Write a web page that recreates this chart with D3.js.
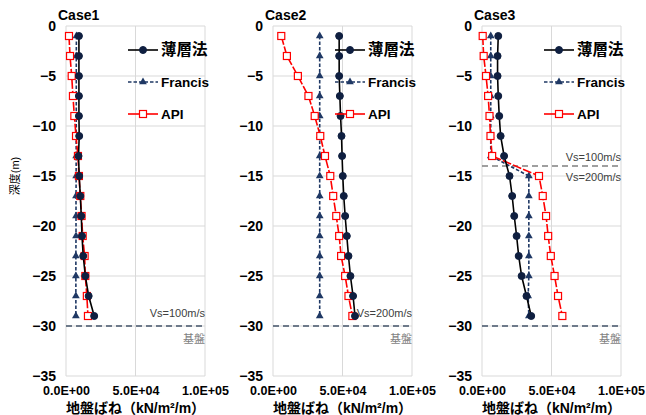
<!DOCTYPE html>
<html>
<head>
<meta charset="utf-8">
<script src="https://cdn.jsdelivr.net/npm/d3@7"></script>
<style>
  body { margin: 0; background: #fff; }
  svg text { font-family: "Liberation Sans", Arial, "Noto Sans CJK JP", sans-serif; }
</style>
</head>
<body>
<div id="chart"></div>
<script>
// depth of each sample point (m)
var depths = [-1, -3, -5, -7, -9, -11, -13, -15, -17, -19, -21, -23, -25, -27, -29];

// Case1
var case1Thin    = [9300, 9300, 9300, 9300, 9300, 9500, 9000, 9500, 10300, 11000, 11500, 12400, 13900, 16300, 20300];
var case1Francis = [7500, 7400, 7400, 7400, 7400, 7300, 7300, 7300, 7200, 7200, 7200, 7100, 7100, 7100, 7100];
var case1API     = [2150, 2900, 4100, 5000, 6000, 7200, 8600, 9300, 10300, 11200, 12000, 13400, 13900, 15000, 15800];

// Case2
var case2Thin    = [47600, 47600, 47600, 48100, 48600, 49300, 49700, 50200, 50900, 51900, 53100, 54300, 55700, 57600, 59000];
var case2Francis = [33600, 33600, 33600, 33600, 33600, 33600, 33600, 33600, 33600, 33600, 33600, 33600, 33600, 33600, 33600];
var case2API     = [5950, 10000, 17900, 25500, 30000, 34000, 37400, 41200, 43300, 45500, 47600, 49000, 51900, 54300, 57100];

// Case3
var case3Thin    = [11700, 11200, 11200, 11700, 12400, 13400, 15900, 19800, 21700, 23200, 24900, 26400, 28500, 32000, 35400];
var case3Francis = [6300, 6300, 6300, 6300, 6300, 6300, 6300, 33700, 33700, 33700, 33700, 33700, 33700, 33200, 33700];
var case3API     = [500, 1200, 2900, 4400, 5400, 6100, 7300, 41000, 43700, 46100, 47600, 49500, 52200, 54700, 57800];

var caseNames = ["Case1", "Case2", "Case3"];
var seriesNames = ["薄層法", "Francis", "API"];
var xTicks = [0, 50000, 100000];
var yTicks = [0, -5, -10, -15, -20, -25, -30, -35];
var baseDepth = -30;
// layer boundaries: [depth, label above, label below]
var layerLines = [
  [],
  [],
  [[-14, "Vs=100m/s", "Vs=200m/s"]]
];
var baseLabels = ["Vs=100m/s", "Vs=200m/s", null];

var panels = [
  {name: caseNames[0], thin: case1Thin, francis: case1Francis, api: case1API, left: 66},
  {name: caseNames[1], thin: case2Thin, francis: case2Francis, api: case2API, left: 273},
  {name: caseNames[2], thin: case3Thin, francis: case3Francis, api: case3API, left: 482}
];

var W = 646, H = 415;
var plotTop = 26, plotW = 139, plotH = 350;

var svg = d3.select("#chart").append("svg")
    .attr("width", W)
    .attr("height", H);

var x = d3.scaleLinear().domain([0, 100000]).range([0, plotW]);
var y = d3.scaleLinear().domain([0, -35]).range([0, plotH]);

var styles = [
  {stroke: "#000", dash: null, marker: "circle"},
  {stroke: "#1f3864", dash: "3.5,2", marker: "triangle"},
  {stroke: "#ff0000", dash: "9,2", marker: "square"}
];

function drawMarker(g, type, cx, cy) {
  if (type === "circle") {
    g.append("circle").attr("cx", cx).attr("cy", cy).attr("r", 3.5)
      .attr("fill", "#0f1f40").attr("stroke", "#0f1f40");
  } else if (type === "triangle") {
    g.append("path")
      .attr("d", d3.symbol().type(d3.symbolTriangle).size(26)())
      .attr("transform", "translate(" + cx + "," + cy + ")")
      .attr("fill", "#1f3864");
  } else {
    g.append("rect").attr("x", cx - 3.5).attr("y", cy - 3.5)
      .attr("width", 7).attr("height", 7)
      .attr("fill", "#fff").attr("stroke", "#ff0000").attr("stroke-width", 1.2);
  }
}

function sci(d) {
  var m = d.toExponential(1).toUpperCase().split("E");
  var e = +m[1];
  return m[0] + "E+" + (e < 10 ? "0" : "") + e;
}

panels.forEach(function(p, i) {
  var g = svg.append("g").attr("transform", "translate(" + p.left + "," + plotTop + ")");

  // gridlines
  g.append("g").selectAll("line").data(yTicks).join("line")
    .attr("x1", 0).attr("x2", plotW)
    .attr("y1", function(d) { return y(d); }).attr("y2", function(d) { return y(d); })
    .attr("stroke", "#d9d9d9").attr("stroke-width", 1);
  g.append("g").selectAll("line").data(xTicks).join("line")
    .attr("y1", 0).attr("y2", plotH)
    .attr("x1", function(d) { return x(d); }).attr("x2", function(d) { return x(d); })
    .attr("stroke", "#d9d9d9").attr("stroke-width", 1);

  // axes (labels only)
  var yAxis = g.append("g").call(d3.axisLeft(y).tickValues(yTicks).tickSize(0).tickPadding(10));
  yAxis.select(".domain").remove();
  yAxis.selectAll("text").attr("font-size", 14).attr("font-weight", "bold").attr("fill", "#000")
    .attr("font-family", "'Liberation Sans', Arial, sans-serif");

  var xAxis = g.append("g").attr("transform", "translate(0," + plotH + ")")
    .call(d3.axisBottom(x).tickValues(xTicks).tickSize(0).tickPadding(10).tickFormat(sci));
  xAxis.select(".domain").remove();
  xAxis.selectAll("text").attr("font-size", 12.5).attr("font-weight", "bold").attr("fill", "#000")
    .attr("font-family", "'Liberation Sans', Arial, sans-serif");

  // x axis title
  g.append("text").attr("x", plotW / 2).attr("y", plotH + 37)
    .attr("text-anchor", "middle").attr("font-size", 14).attr("font-weight", "bold")
    .attr("font-family", "'Noto Sans CJK JP', sans-serif")
    .text("地盤ばね（kN/m²/m）");

  // case title
  g.append("text").attr("x", -8).attr("y", -6)
    .attr("font-size", 14).attr("font-weight", "bold").text(p.name);

  // base line (基盤)
  g.append("line").attr("x1", 0).attr("x2", plotW)
    .attr("y1", y(baseDepth)).attr("y2", y(baseDepth))
    .attr("stroke", "#44546a").attr("stroke-width", 1.3).attr("stroke-dasharray", "6,4");
  if (baseLabels[i]) {
    g.append("text").attr("x", plotW).attr("y", y(baseDepth) - 9)
      .attr("text-anchor", "end").attr("font-size", 11).attr("fill", "#404040")
      .text(baseLabels[i]);
  }
  g.append("text").attr("x", plotW).attr("y", y(baseDepth) + 17)
    .attr("text-anchor", "end").attr("font-size", 11).attr("fill", "#7f7f7f")
    .attr("font-family", "'Noto Sans CJK JP', sans-serif")
    .text("基盤");

  layerLines[i].forEach(function(l) {
    g.append("line").attr("x1", 0).attr("x2", plotW)
      .attr("y1", y(l[0])).attr("y2", y(l[0]))
      .attr("stroke", "#808080").attr("stroke-width", 1.5).attr("stroke-dasharray", "6,4");
    g.append("text").attr("x", plotW).attr("y", y(l[0]) - 5)
      .attr("text-anchor", "end").attr("font-size", 11).attr("fill", "#404040").text(l[1]);
    g.append("text").attr("x", plotW).attr("y", y(l[0]) + 15)
      .attr("text-anchor", "end").attr("font-size", 11).attr("fill", "#404040").text(l[2]);
  });

  // series
  var seriesData = [p.thin, p.francis, p.api];
  [1, 2, 0].forEach(function(k) {
    var vals = seriesData[k];
    var pts = depths.map(function(d, j) { return [vals[j], d]; });
    g.append("path").datum(pts)
      .attr("fill", "none")
      .attr("stroke", styles[k].stroke)
      .attr("stroke-width", 1.6)
      .attr("stroke-dasharray", styles[k].dash)
      .attr("d", d3.line().x(function(d) { return x(d[0]); }).y(function(d) { return y(d[1]); }));
    var mg = g.append("g");
    pts.forEach(function(d) { drawMarker(mg, styles[k].marker, x(d[0]), y(d[1])); });
  });

  // legend
  seriesNames.forEach(function(n, k) {
    var ly = 24 + k * 32;
    var lg = g.append("g").attr("transform", "translate(62," + ly + ")");
    lg.append("line").attr("x1", 0).attr("x2", 30).attr("y1", 0).attr("y2", 0)
      .attr("stroke", styles[k].stroke).attr("stroke-width", 1.6)
      .attr("stroke-dasharray", k === 1 ? "3.5,2" : null);
    drawMarker(lg, styles[k].marker, 15, 0);
    lg.append("text").attr("x", 33).attr("y", 0).attr("dy", "0.35em")
      .attr("font-size", k === 0 ? 15.5 : 13.5).attr("font-weight", "bold")
      .attr("font-family", k === 0 ? "'Noto Sans CJK JP', sans-serif" : null)
      .text(n);
  });
});

// y axis title
svg.append("text")
  .attr("transform", "translate(19,176) rotate(-90)")
  .attr("text-anchor", "middle").attr("font-size", 11)
  .attr("font-family", "'Noto Sans CJK JP', sans-serif")
  .text("深度(m)");
</script>
</body>
</html>
